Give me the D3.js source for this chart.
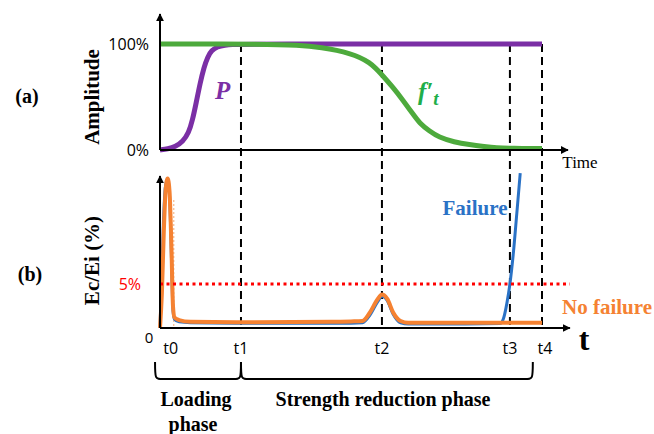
<!DOCTYPE html>
<html>
<head>
<meta charset="utf-8">
<script src="https://cdn.jsdelivr.net/npm/d3@7"></script>
<style>
  body { margin: 0; background: #fff; }
  svg { display: block; }
  .serif { font-family: 'Liberation Serif', 'DejaVu Serif', Times, serif; font-weight: bold; }
  .sans { font-family: 'Open Sans', 'Noto Sans', sans-serif; }
</style>
</head>
<body>
<svg width="654" height="434"></svg>
<script>
// time markers (0..100 = origin..t4)
const markNames = ['t0', 't1', 't2', 't3', 't4'];
const markTimes = [2.8, 21.2, 58.1, 91.6, 100];
const dashedTimes = [21.2, 58.1, 91.6, 100];

// panel (a): amplitude in %
const pTime = [0, 2, 4, 6, 7.5, 8.5, 9.5, 10.5, 11.5, 12.5, 13.5, 15, 17, 19, 21, 100];
const pVal  = [0, 1, 3, 8, 16, 28, 45, 63, 78, 88, 94, 97.5, 99, 99.7, 100, 100];
const fTime = [0, 28, 36, 42, 50, 55, 58.1, 61, 63.6, 66, 68, 70.5, 73, 77, 81, 85, 88, 92, 100];
const fVal  = [100, 100, 99, 97, 91.5, 83, 71, 59, 47, 35, 25, 18, 12, 7.5, 5, 3.2, 2, 1.5, 1.5];

// panel (b): Ec/Ei in %
const oTime = [0, 0.5, 1, 1.5, 2, 2.5, 3, 3.4, 3.8, 5, 8, 20, 45, 50, 53, 55, 57, 58.1, 59.5, 61, 63, 65, 80, 100];
const oVal  = [0, 4, 11, 15.8, 17, 15.5, 9, 2.5, 1.2, 0.9, 0.7, 0.65, 0.7, 0.75, 0.8, 1.8, 3.3, 3.8, 3.3, 1.8, 0.8, 0.6, 0.6, 0.6];
const bTime = [0, 0.4, 0.9, 1.4, 2, 2.5, 3, 3.4, 3.8, 5, 8, 20, 50, 53, 55, 57, 58.1, 59.5, 61, 63, 65, 80, 89, 90, 90.8, 91.6, 92.5, 93.4, 94.3];
const bVal  = [0, 5, 12, 16, 17, 15, 8, 2, 1, 0.7, 0.6, 0.55, 0.55, 0.6, 1.5, 3, 3.6, 3.1, 1.6, 0.6, 0.45, 0.45, 0.5, 1.2, 2.8, 5, 8.5, 13, 17.6];
const threshold = 5;

const svg = d3.select('svg');

const x = d3.scaleLinear().domain([0, 100]).range([160, 542]);
const yA = d3.scaleLinear().domain([0, 100]).range([150, 44]);
const yB = d3.scaleLinear().domain([0, 5]).range([328, 284]);

// arrow marker
svg.append('defs').append('marker')
    .attr('id', 'arr')
    .attr('viewBox', '0 0 10 10')
    .attr('refX', 9).attr('refY', 5)
    .attr('markerWidth', 4).attr('markerHeight', 4)
    .attr('orient', 'auto')
  .append('path')
    .attr('d', 'M0,0 L10,5 L0,10 z')
    .attr('fill', '#000');

const toPts = (ts, vs) => ts.map((t, i) => [t, vs[i]]);

// dashed verticals
svg.selectAll('line.dash')
  .data(dashedTimes)
  .join('line')
    .attr('class', 'dash')
    .attr('x1', d => x(d)).attr('x2', d => x(d))
    .attr('y1', yA(100)).attr('y2', yB(0))
    .attr('stroke', '#000')
    .attr('stroke-width', 2)
    .attr('stroke-dasharray', '8,5');

// ---- panel (a)
const lineA = d3.line().x(d => x(d[0])).y(d => yA(d[1])).curve(d3.curveBasis);

svg.append('path')
    .attr('d', lineA(toPts(pTime, pVal)))
    .attr('fill', 'none')
    .attr('stroke', '#7b2fa5')
    .attr('stroke-width', 5);

svg.append('path')
    .attr('d', lineA(toPts(fTime, fVal)))
    .attr('fill', 'none')
    .attr('stroke', '#4daa3c')
    .attr('stroke-width', 5);

// axes (a)
svg.append('line')
    .attr('x1', x(0)).attr('x2', x(0))
    .attr('y1', yA(0)).attr('y2', 14)
    .attr('stroke', '#000').attr('stroke-width', 2)
    .attr('marker-end', 'url(#arr)');
svg.append('line')
    .attr('x1', x(0)).attr('x2', x(106.8))
    .attr('y1', yA(0)).attr('y2', yA(0))
    .attr('stroke', '#000').attr('stroke-width', 2)
    .attr('marker-end', 'url(#arr)');

const aTicks = [0, 100];
svg.selectAll('text.ta')
  .data(aTicks)
  .join('text')
    .attr('class', 'ta sans')
    .attr('x', x(0) - 11)
    .attr('y', d => yA(d))
    .attr('dy', '0.36em')
    .attr('text-anchor', 'end')
    .attr('font-size', 16)
    .text(d => d + '%');

svg.append('text')
    .attr('class', 'serif')
    .attr('transform', `translate(99,${(yA(0) + yA(100)) / 2}) rotate(-90)`)
    .attr('text-anchor', 'middle')
    .attr('font-size', 21)
    .text('Amplitude');

svg.append('text').attr('class', 'serif')
    .attr('x', 27).attr('y', 103).attr('text-anchor', 'middle')
    .attr('font-size', 20).text('(a)');

svg.append('text')
    .attr('x', 580).attr('y', 168)
    .attr('font-family', 'Liberation Serif, DejaVu Serif, serif')
    .attr('font-size', 17)
    .attr('text-anchor', 'middle')
    .text('Time');

svg.append('text').attr('class', 'serif')
    .attr('x', 215).attr('y', 99)
    .attr('font-style', 'italic')
    .attr('font-size', 25)
    .attr('fill', '#7b2fa5')
    .text('P');

const ft = svg.append('text').attr('class', 'serif')
    .attr('x', 418).attr('y', 100)
    .attr('font-style', 'italic')
    .attr('font-size', 25)
    .attr('fill', '#1fae4a');
ft.append('tspan').text('f′');
ft.append('tspan').attr('font-size', 19).attr('dy', 5).text('t');

// ---- panel (b)
const lineB = d3.line().x(d => x(d[0])).y(d => yB(d[1])).curve(d3.curveMonotoneX);

// faint orange dotted marker near t0
svg.append('line')
    .attr('x1', x(3.6)).attr('x2', x(3.6))
    .attr('y1', 200).attr('y2', yB(0))
    .attr('stroke', '#f7b98c').attr('stroke-width', 1.2)
    .attr('stroke-dasharray', '2,2');

svg.append('path')
    .attr('d', lineB(toPts(bTime, bVal)))
    .attr('fill', 'none')
    .attr('stroke', '#2a72c6')
    .attr('stroke-width', 3);

svg.append('path')
    .attr('d', lineB(toPts(oTime, oVal)))
    .attr('fill', 'none')
    .attr('stroke', '#f58232')
    .attr('stroke-width', 4);

// threshold
svg.append('line')
    .attr('x1', x(0)).attr('x2', x(107.3))
    .attr('y1', yB(threshold)).attr('y2', yB(threshold))
    .attr('stroke', '#ff0000').attr('stroke-width', 3)
    .attr('stroke-dasharray', '3,3.5');

svg.append('text').attr('class', 'sans')
    .attr('x', 141).attr('y', yB(threshold)).attr('dy', '0.36em')
    .attr('text-anchor', 'end')
    .attr('font-size', 16)
    .attr('fill', '#ff0000')
    .text(threshold + '%');

// axes (b)
svg.append('line')
    .attr('x1', x(0)).attr('x2', x(0))
    .attr('y1', yB(0)).attr('y2', 176)
    .attr('stroke', '#000').attr('stroke-width', 2)
    .attr('marker-end', 'url(#arr)');
svg.append('line')
    .attr('x1', x(0)).attr('x2', x(107.3))
    .attr('y1', yB(0)).attr('y2', yB(0))
    .attr('stroke', '#000').attr('stroke-width', 2)
    .attr('marker-end', 'url(#arr)');

svg.append('text').attr('class', 'sans')
    .attr('x', 149).attr('y', 343)
    .attr('text-anchor', 'middle')
    .attr('font-size', 15)
    .text('0');

svg.selectAll('text.tm')
  .data(markNames)
  .join('text')
    .attr('class', 'tm sans')
    .attr('x', (d, i) => x(markTimes[i]) + (i === 4 ? 3 : 0))
    .attr('y', 354)
    .attr('text-anchor', 'middle')
    .attr('font-size', 16)
    .text(d => d);

svg.append('text').attr('class', 'serif')
    .attr('x', 584).attr('y', 350)
    .attr('text-anchor', 'middle')
    .attr('font-size', 32)
    .text('t');

svg.append('text')
    .attr('class', 'serif')
    .attr('transform', `translate(99,${(yB(0) + 177) / 2 + 8}) rotate(-90)`)
    .attr('text-anchor', 'middle')
    .attr('font-size', 21)
    .text('Ec/Ei (%)');

svg.append('text').attr('class', 'serif')
    .attr('x', 30).attr('y', 281).attr('text-anchor', 'middle')
    .attr('font-size', 20).text('(b)');

svg.append('text').attr('class', 'serif')
    .attr('x', 475).attr('y', 215)
    .attr('text-anchor', 'middle')
    .attr('font-size', 21)
    .attr('fill', '#2a72c6')
    .text('Failure');

svg.append('text').attr('class', 'serif')
    .attr('x', 607).attr('y', 314)
    .attr('text-anchor', 'middle')
    .attr('font-size', 21)
    .attr('fill', '#f58232')
    .text('No failure');

// phase braces
const braces = [[-1.3, 21.2], [21.2, 97.6]];
const braceTop = 362, braceBot = 379;
svg.selectAll('path.brace')
  .data(braces)
  .join('path')
    .attr('class', 'brace')
    .attr('fill', 'none')
    .attr('stroke', '#000')
    .attr('stroke-width', 2)
    .attr('d', d => {
      const a = x(d[0]), b = x(d[1]);
      return `M${a},${braceTop} C${a},${braceBot} ${a},${braceBot} ${a + 8},${braceBot}` +
             ` L${b - 8},${braceBot} C${b},${braceBot} ${b},${braceBot} ${b},${braceTop}`;
    });

svg.append('text').attr('class', 'serif')
    .attr('x', 196).attr('y', 406)
    .attr('text-anchor', 'middle')
    .attr('font-size', 20)
    .text('Loading');
svg.append('text').attr('class', 'serif')
    .attr('x', 193).attr('y', 431)
    .attr('text-anchor', 'middle')
    .attr('font-size', 20)
    .text('phase');
svg.append('text').attr('class', 'serif')
    .attr('x', 383).attr('y', 406)
    .attr('text-anchor', 'middle')
    .attr('font-size', 20)
    .text('Strength reduction phase');
</script>
</body>
</html>
